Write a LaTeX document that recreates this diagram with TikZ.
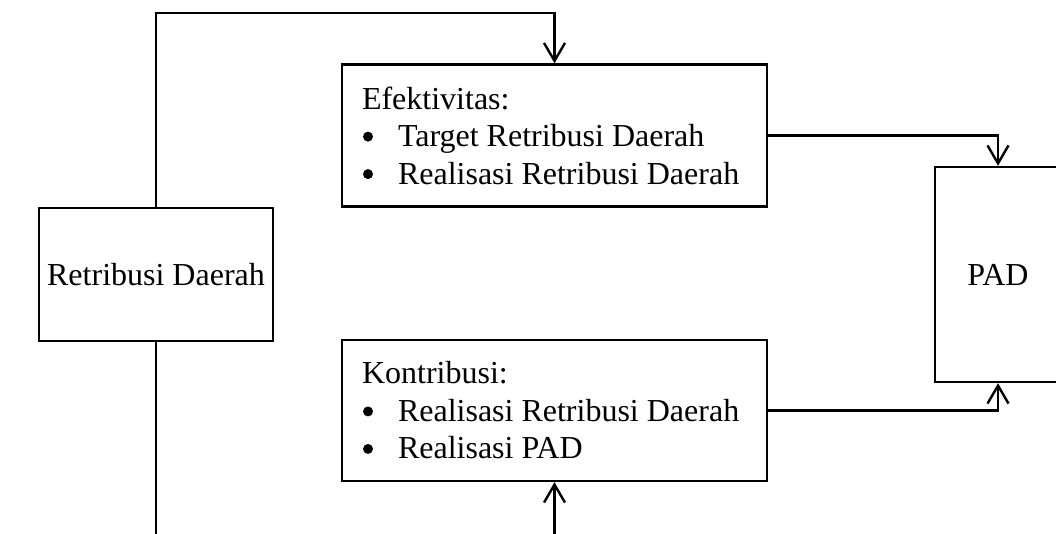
\documentclass[tikz,border=0pt]{standalone}
\usepackage{fontspec}
\setmainfont{Liberation Serif}
\usetikzlibrary{arrows.meta}
\tikzset{
  box/.style={draw, line width=2.4pt, rectangle, inner sep=0pt, font=\fontsize{32}{37.5}\selectfont},
  listbox/.style={box, align=flush left, text width=385pt, inner xsep=20pt, minimum height=142pt},
  conn/.style={line width=2.4pt},
  arr/.style={conn, -{Straight Barb[length=18pt,width=21pt]}},
}
\newcommand{\blt}{\makebox[36pt][l]{\hspace{1pt}\tikz[baseline=0pt]\fill (5pt,10pt) circle[radius=5pt];}}
\begin{document}
\begin{tikzpicture}[x=1pt,y=-1pt]
\useasboundingbox (0,0) rectangle (1056,533);
\clip (0,0) rectangle (1056,533);
\node[box, minimum width=234pt, minimum height=133pt] (ret) at (156,274.5) {Retribusi Daerah};
\node[listbox] (eff) at (554.5,135.5) {Efektivitas:\\\blt Target Retribusi Daerah\\\blt Realisasi Retribusi Daerah};
\node[listbox, minimum height=141pt] (kon) at (554.5,410.5) {Kontribusi:\\\blt Realisasi Retribusi Daerah\\\blt Realisasi PAD};
\node[box, minimum width=126pt, minimum height=215pt] (pad) at (998,274.5) {PAD};
\coordinate (t) at (0,13);
\coordinate (b) at (0,570);
\draw[arr] (ret.north) -- (ret.north |- t) -| (eff.north);
\draw[arr] (ret.south) -- (ret.south |- b) -| (kon.south);
\draw[arr] (eff.east) -| (pad.north);
\draw[arr] (kon.east) -| (pad.south);
\end{tikzpicture}
\end{document}
